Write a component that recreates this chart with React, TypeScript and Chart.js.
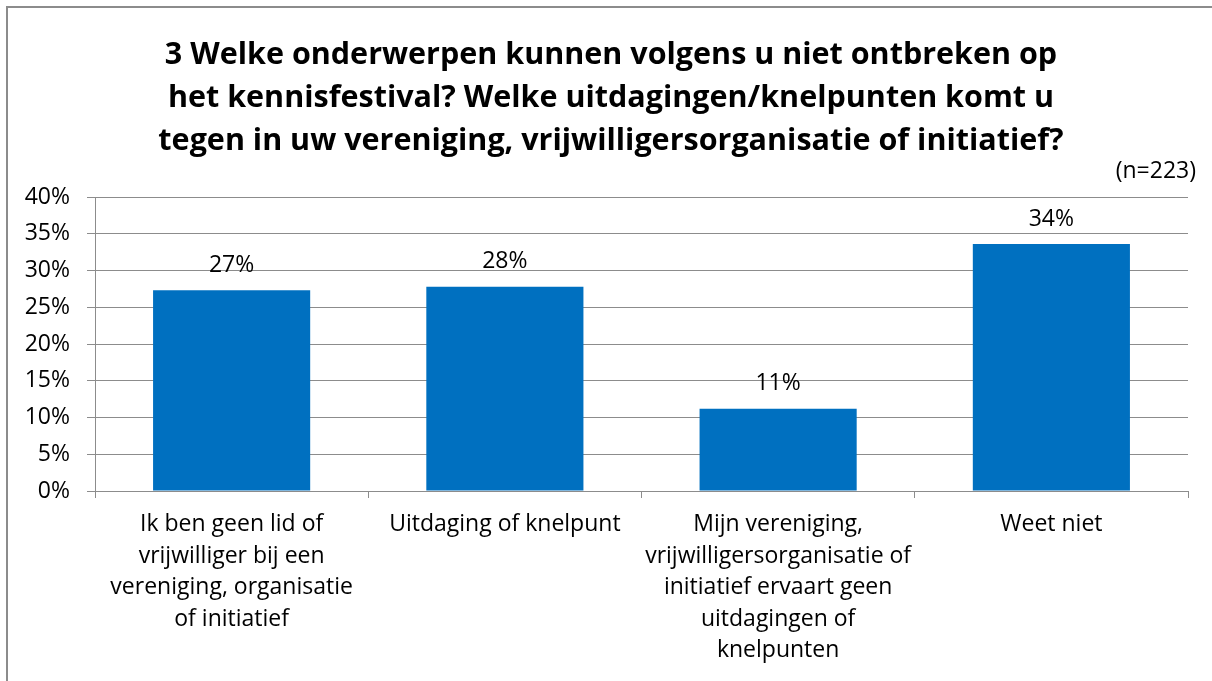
import React, { useEffect, useRef } from "react";
import { Chart, registerables } from "chart.js";

Chart.register(...registerables);

const titleLines = [
  "3 Welke onderwerpen kunnen volgens u niet ontbreken op",
  "het kennisfestival? Welke uitdagingen/knelpunten komt u",
  "tegen in uw vereniging, vrijwilligersorganisatie of initiatief?",
];
const sampleNote = "(n=223)";
const categories: string[][] = [
  ["Ik ben geen lid of", "vrijwilliger bij een", "vereniging, organisatie", "of initiatief"],
  ["Uitdaging of knelpunt"],
  ["Mijn vereniging,", "vrijwilligersorganisatie of", "initiatief ervaart geen", "uitdagingen of", "knelpunten"],
  ["Weet niet"],
];
const values = [27.3, 27.8, 11.2, 33.6];
const yTicks = [0, 5, 10, 15, 20, 25, 30, 35, 40];

const FONT = "'Open Sans', 'Noto Sans', sans-serif";

const labelPlugin = {
  id: "valueLabels",
  afterDatasetsDraw(chart: any) {
    const ctx = chart.ctx;
    const meta = chart.getDatasetMeta(0);
    ctx.save();
    ctx.font = `23px ${FONT}`;
    ctx.fillStyle = "#000";
    ctx.textAlign = "center";
    ctx.textBaseline = "middle";
    meta.data.forEach((bar: any, i: number) => {
      ctx.fillText(Math.round(values[i]) + "%", bar.x, bar.y - 25);
    });
    ctx.textAlign = "right";
    ctx.fillText(sampleNote, chart.chartArea.right + 8, chart.chartArea.top - 26);
    ctx.restore();
  },
};

export default function App() {
  const ref = useRef<HTMLCanvasElement>(null);
  useEffect(() => {
    if (!ref.current) return;
    const chart = new Chart(ref.current, {
      type: "bar",
      data: {
        labels: categories,
        datasets: [
          {
            data: values,
            backgroundColor: "#0070C0",
            barPercentage: 0.575,
            categoryPercentage: 1,
            yAxisID: "y",
          },
        ],
      },
      options: {
        animation: false,
        responsive: false,
        maintainAspectRatio: false,
        layout: { padding: { left: 10, right: 0, top: 0, bottom: 0 } },
        plugins: {
          legend: { display: false },
          tooltip: { enabled: false },
          title: {
            display: true,
            text: titleLines,
            color: "#000",
            font: { family: FONT, size: 30.5, weight: "bold", lineHeight: 1.41 },
            padding: { top: 34, bottom: 34 },
          },
        },
        scales: {
          x: {
            grid: {
              display: true,
              drawOnChartArea: false,
              drawTicks: true,
              tickLength: 7,
              color: "#8c8c8c",
              offset: true,
            },
            border: { color: "#8c8c8c", width: 1 },
            ticks: {
              color: "#000",
              font: { family: FONT, size: 23, lineHeight: 1.37 },
              padding: 11,
              maxRotation: 0,
              autoSkip: false,
            },
            afterFit(scale: any) {
              scale.height = 190;
            },
          },
          y: {
            min: 0,
            max: 40,
            afterBuildTicks(scale: any) {
              scale.ticks = yTicks.map((v) => ({ value: v }));
            },
            grid: {
              color: "#8c8c8c",
              tickLength: 8,
            },
            border: { color: "#8c8c8c", width: 1 },
            ticks: {
              color: "#000",
              font: { family: FONT, size: 23 },
              padding: 17,
              callback: (v: any) => v + "%",
            },
            afterFit(scale: any) {
              scale.width = 85;
            },
          },
          y2: {
            position: "right",
            min: 0,
            max: 40,
            grid: { display: false, drawTicks: false },
            border: { display: false },
            ticks: { display: false },
            afterFit(scale: any) {
              scale.width = 24;
            },
          },
        },
      },
      plugins: [labelPlugin],
    });
    return () => chart.destroy();
  }, []);

  return (
    <div style={{ position: "fixed", left: 0, top: 0, width: 1212, height: 681, overflow: "hidden", background: "#fff" }}>
      <div
        style={{
          position: "absolute",
          left: 6,
          top: 6,
          width: 1240,
          height: 700,
          border: "2px solid #8c8c8c",
          boxSizing: "border-box",
        }}
      />
      <canvas ref={ref} width={1212} height={681} style={{ position: "absolute", left: 0, top: 0 }} />
    </div>
  );
}
